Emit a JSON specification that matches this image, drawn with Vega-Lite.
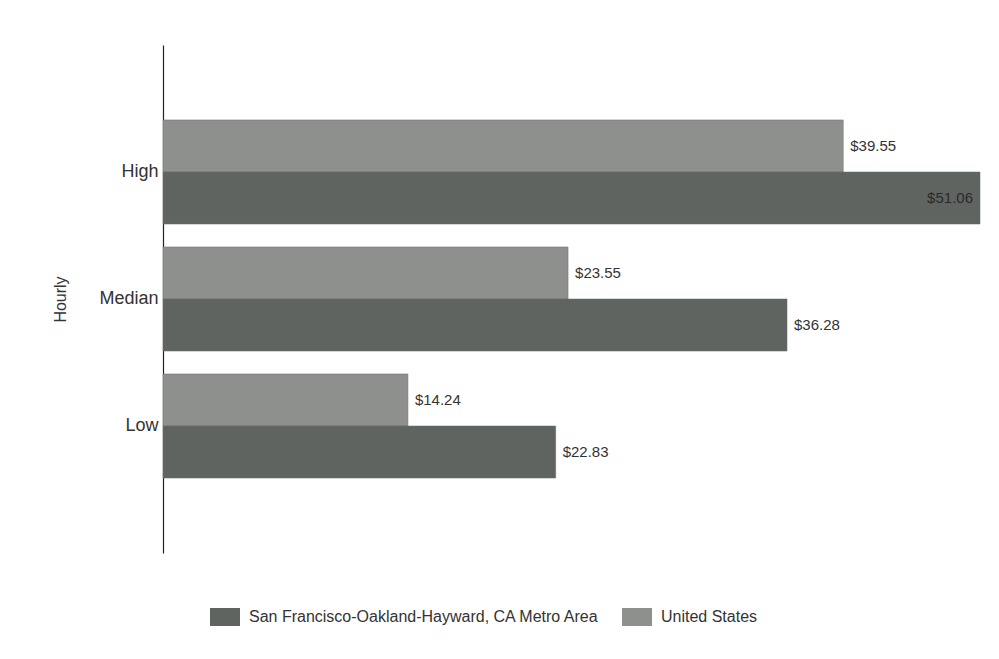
{
  "$schema": "https://vega.github.io/schema/vega-lite/v6.json",
  "width": 817,
  "height": 508,
  "autosize": {"type": "none"},
  "padding": {"left": 163, "top": 45, "right": 19, "bottom": 106},
  "background": "white",
  "config": {"view": {"stroke": null}, "font": "Liberation Sans"},
  "data": {
    "values": [
      {"level": "High", "area": "United States", "wage": 39.55, "label": "$39.55"},
      {"level": "High", "area": "San Francisco-Oakland-Hayward, CA Metro Area", "wage": 51.06, "label": "$51.06"},
      {"level": "Median", "area": "United States", "wage": 23.55, "label": "$23.55"},
      {"level": "Median", "area": "San Francisco-Oakland-Hayward, CA Metro Area", "wage": 36.28, "label": "$36.28"},
      {"level": "Low", "area": "United States", "wage": 14.24, "label": "$14.24"},
      {"level": "Low", "area": "San Francisco-Oakland-Hayward, CA Metro Area", "wage": 22.83, "label": "$22.83"}
    ]
  },
  "encoding": {
    "y": {
      "field": "level", "type": "nominal", "sort": ["High", "Median", "Low"],
      "scale": {"paddingInner": 0.18, "paddingOuter": 0.59},
      "axis": {"title": "Hourly", "titleFont": "Liberation Sans", "titleFontSize": 16, "titleFontWeight": "normal", "titleColor": "#333", "titlePadding": 30, "labelFontSize": 18, "labelColor": "#333", "labelPadding": 5, "ticks": false, "domainColor": "#222", "domainWidth": 1.2}
    },
    "yOffset": {
      "field": "area", "type": "nominal",
      "sort": ["United States", "San Francisco-Oakland-Hayward, CA Metro Area"],
      "scale": {"paddingInner": 0, "paddingOuter": 0}
    },
    "x": {
      "field": "wage", "type": "quantitative",
      "scale": {"domain": [0, 47.5], "clamp": true, "nice": false, "zero": true},
      "axis": null
    }
  },
  "layer": [
    {
      "mark": {"type": "bar", "stroke": "#6a6a6a", "strokeWidth": 0.5},
      "encoding": {
        "color": {
          "field": "area", "type": "nominal",
          "scale": {"domain": ["San Francisco-Oakland-Hayward, CA Metro Area", "United States"], "range": ["#5f6461", "#8e908e"]},
          "legend": {
            "title": null, "orient": "none", "direction": "horizontal",
            "legendX": 47, "legendY": 557,
            "symbolType": "M-1,-0.6H1V0.6H-1Z", "symbolSize": 900, "symbolStrokeWidth": 0,
            "labelFontSize": 16, "labelColor": "#333", "labelLimit": 500, "columnPadding": 22, "labelOffset": 9
          }
        }
      }
    },
    {
      "transform": [{"filter": "datum.wage < 47.5"}],
      "mark": {"type": "text", "align": "left", "dx": 7, "fontSize": 15, "color": "#333"},
      "encoding": {"text": {"field": "label"}}
    },
    {
      "transform": [{"filter": "datum.wage >= 47.5"}],
      "mark": {"type": "text", "align": "right", "dx": -7, "fontSize": 15, "color": "#2a2a2a"},
      "encoding": {"text": {"field": "label"}}
    }
  ]
}
